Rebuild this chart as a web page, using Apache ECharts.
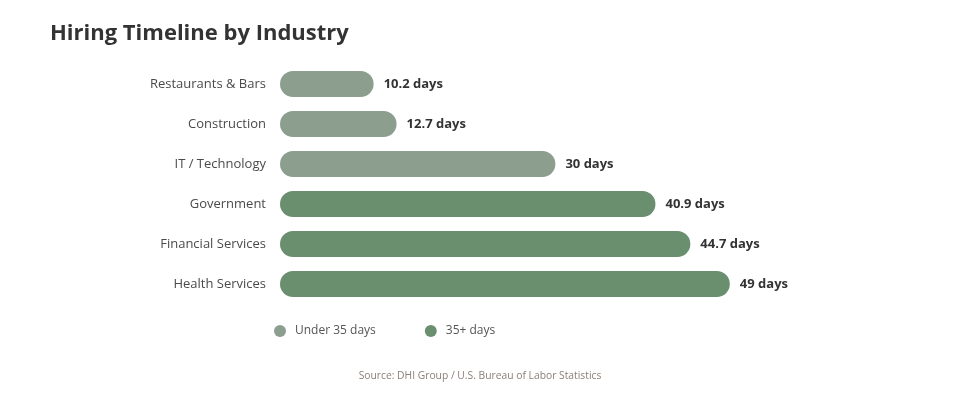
<!DOCTYPE html>
<html>
<head>
<meta charset="utf-8">
<script src="https://cdn.jsdelivr.net/npm/echarts@6/dist/echarts.min.js"></script>
<style>
  html, body { margin: 0; padding: 0; background: #fff; }
  #chart { width: 960px; height: 400px; }
</style>
</head>
<body>
<div id="chart"></div>
<script>
// --- Data ---
const industries = ['Restaurants & Bars', 'Construction', 'IT / Technology', 'Government', 'Financial Services', 'Health Services'];
const days       = [10.2, 12.7, 30, 40.9, 44.7, 49];
const threshold  = 35;
const seriesNames = ['Under 35 days', '35+ days'];

const LIGHT = '#8c9f8f';
const DARK  = '#6a8f6f';
const FONT  = '"Open Sans", "Noto Sans", sans-serif';

// split values into the two colour groups (null where not in group)
const underData = days.map(v => v < threshold ? v : null);
const overData  = days.map(v => v >= threshold ? v : null);

const chart = echarts.init(document.getElementById('chart'));

function barSeries(name, data, color) {
  return {
    name,
    type: 'bar',
    data,
    barWidth: 26,
    barGap: '-100%',
    itemStyle: { color, borderRadius: 13 },
    label: {
      show: true,
      position: 'right',
      distance: 10,
      formatter: p => p.value + ' days',
      fontFamily: FONT,
      fontSize: 13,
      fontWeight: 'bold',
      color: '#333'
    }
  };
}

chart.setOption({
  animation: false,
  title: {
    text: 'Hiring Timeline by Industry',
    left: 45,
    top: 18,
    textStyle: { fontFamily: FONT, fontSize: 22, fontWeight: 'bold', color: '#333' }
  },
  legend: {
    data: seriesNames,
    left: 269,
    top: 320,
    icon: 'circle',
    itemWidth: 12,
    itemHeight: 12,
    itemGap: 49,
    textStyle: { fontFamily: FONT, fontSize: 12, color: '#555', padding: [0, 0, 0, 4] }
  },
  graphic: [{
    type: 'text',
    left: 'center',
    top: 371,
    style: {
      text: 'Source: DHI Group / U.S. Bureau of Labor Statistics',
      fontFamily: FONT,
      fontSize: 10.3,
      fill: '#8a7f78'
    }
  }],
  grid: { left: 280, width: 459, top: 64, height: 240 },
  xAxis: {
    type: 'value',
    min: 0,
    max: 50,
    show: false
  },
  yAxis: {
    type: 'category',
    data: industries,
    inverse: true,
    axisLine: { show: false },
    axisTick: { show: false },
    axisLabel: {
      margin: 14,
      fontFamily: FONT,
      fontSize: 13,
      color: '#4a4a4a'
    }
  },
  series: [
    barSeries(seriesNames[0], underData, LIGHT),
    barSeries(seriesNames[1], overData, DARK)
  ]
});
</script>
</body>
</html>
